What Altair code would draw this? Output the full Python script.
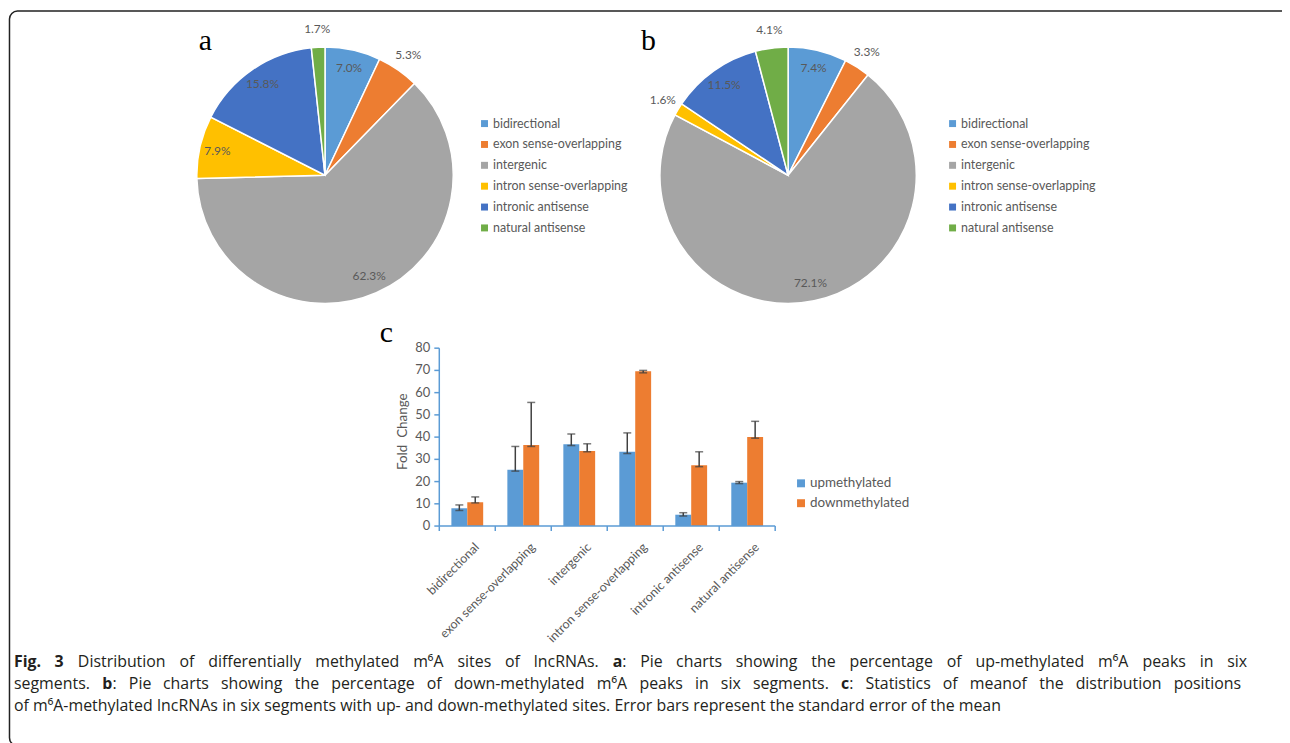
import altair as alt
import pandas as pd

# ---------------- data ----------------
categories = ["bidirectional", "exon sense-overlapping", "intergenic",
              "intron sense-overlapping", "intronic antisense", "natural antisense"]
cat_colors = ["#5B9BD5", "#ED7D31", "#A5A5A5", "#FFC000", "#4472C4", "#70AD47"]

pie_a_pct = [7.0, 5.3, 62.3, 7.9, 15.8, 1.7]   # up-methylated
pie_b_pct = [7.4, 3.3, 72.1, 1.6, 11.5, 4.1]   # down-methylated

groups = ["upmethylated", "downmethylated"]
group_colors = ["#5B9BD5", "#ED7D31"]
up_mean = [8.0, 25.3, 36.8, 33.4, 5.1, 19.5]
up_lo = [7.0, 24.7, 36.2, 32.6, 4.5, 19.1]
up_hi = [9.5, 35.8, 41.4, 41.9, 6.0, 20.0]
down_mean = [10.7, 36.5, 33.8, 69.6, 27.4, 40.1]
down_lo = [10.4, 35.8, 33.4, 68.9, 26.7, 39.5]
down_hi = [13.1, 55.6, 37.0, 70.0, 33.4, 47.1]
y_ticks = [0, 10, 20, 30, 40, 50, 60, 70, 80]

# caption: (text, bold, preceded_by_space)
caption_lines = [
    [("Fig.", True, False), ("3", True, True)]
    + [(w, False, True) for w in "Distribution of differentially methylated m\u2076A sites of lncRNAs.".split()]
    + [("a", True, True), (":", False, False)]
    + [(w, False, True) for w in "Pie charts showing the percentage of up-methylated m\u2076A peaks in six".split()],
    [("segments.", False, False), ("b", True, True), (":", False, False)]
    + [(w, False, True) for w in "Pie charts showing the percentage of down-methylated m\u2076A peaks in six segments.".split()]
    + [("c", True, True), (":", False, False)]
    + [(w, False, True) for w in "Statistics of meanof the distribution positions".split()],
    [(w, False, i > 0) for i, w in enumerate(
        ("of m\u2076A-methylated lncRNAs in six segments with up- and down-methylated sites. "
         "Error bars represent the standard error of the mean").split())],
]

# ---------------- layout (canvas px = page px - 8) ----------------
W, H = 1282, 735
R = 129
LABEL_FONT = "Lato"
GRAY = "#595959"
BLUE_AX = "#5B9BD5"
CAP_FS = 16
caption_y = [656, 678, 700]
caption_right = [1247, 1241, None]   # justified lines end here
CAP_LEFT = 6

one = alt.Data(values=[{}])

# approximate Open Sans advance widths (em)
EM = {" ": .26, ".": .266, ",": .25, ":": .266, "-": .322, "\u2076": .36,
      "a": .556, "b": .613, "c": .476, "d": .613, "e": .561, "f": .339, "g": .548, "h": .614,
      "i": .253, "j": .253, "k": .525, "l": .253, "m": .93, "n": .614, "o": .604, "p": .613,
      "q": .613, "r": .408, "s": .477, "t": .353, "u": .614, "v": .501, "w": .778, "x": .524,
      "y": .501, "z": .468, "A": .633, "B": .641, "C": .631, "D": .727, "E": .556, "F": .516,
      "N": .763, "R": .619, "S": .549}


def tw(s, bold):
    return sum(EM.get(ch, .572) for ch in s) * CAP_FS * (1.06 if bold else 1.0)


cap_rows = []
for li, toks in enumerate(caption_lines):
    sp = EM[" "] * CAP_FS
    natural = sum(tw(t, b) for t, b, _ in toks) + sum(sp for _, _, g in toks if g)
    ngaps = sum(1 for _, _, g in toks if g)
    extra = 0.0
    if caption_right[li] is not None and ngaps:
        extra = (caption_right[li] - CAP_LEFT - natural) / ngaps
    x = CAP_LEFT
    for t, b, g in toks:
        if g:
            x += sp + extra
        cap_rows.append({"t": t, "bold": b, "x": x, "y": caption_y[li]})
        x += tw(t, b)
cap_df = pd.DataFrame(cap_rows)


def pie(pcts, cx, cy):
    df = pd.DataFrame({"cat": categories, "pct": pcts, "idx": list(range(len(categories)))})
    tscale = alt.Scale(domain=[0, 100], range=[0, 6.283185307179586])
    arcs = alt.Chart(df).mark_arc(outerRadius=R, stroke="white", strokeWidth=1.5).encode(
        theta=alt.Theta("pct:Q", stack=True, scale=tscale),
        order=alt.Order("idx:Q"),
        x=alt.value(cx), y=alt.value(cy),
        color=alt.Color("cat:N", scale=alt.Scale(domain=categories, range=cat_colors), legend=None),
    )
    labels = alt.Chart(df).transform_window(
        cum="sum(pct)", sort=[alt.SortField("idx")], frame=[None, 0]
    ).transform_calculate(
        mid="datum.cum - datum.pct / 2",
        lab="format(datum.pct, '.1f') + '%'",
        r="datum.pct >= 7 ? 111 : 147",
    ).mark_text(font=LABEL_FONT, fontSize=12, color=GRAY).encode(
        theta=alt.Theta("mid:Q", stack=None, scale=tscale),
        radius=alt.Radius("r:Q", scale=None),
        x=alt.value(cx), y=alt.value(cy),
        text="lab:N",
    )
    return alt.layer(arcs, labels)


def legend(items, colors, xsq, xtext, y0, y1, sq_size, fsize):
    df = pd.DataFrame({"item": items})
    yenc = alt.Y("item:N", scale=alt.Scale(domain=items, range=[y0, y1], padding=0), axis=None)
    sq = alt.Chart(df).mark_square(size=sq_size, opacity=1).encode(
        x=alt.value(xsq), y=yenc,
        color=alt.Color("item:N", scale=alt.Scale(domain=items, range=colors), legend=None),
    )
    tx = alt.Chart(df).mark_text(align="left", baseline="middle", font=LABEL_FONT,
                                 fontSize=fsize, color=GRAY).encode(
        x=alt.value(xtext), y=yenc, text="item:N")
    return alt.layer(sq, tx)


def letter(ch, x, y):
    return alt.Chart(one).mark_text(text=ch, font="Liberation Serif", fontSize=30, color="black",
                                    align="left", baseline="alphabetic").encode(
        x=alt.value(x), y=alt.value(y))


# pies
pie_a = pie(pie_a_pct, 319, 166)
pie_b = pie(pie_b_pct, 785, 166)
leg_a = legend(categories, cat_colors, 479.5, 488, 114, 219, 49, 12.5)
leg_b = legend(categories, cat_colors, 950.5, 959, 114, 219, 49, 12.5)

# bar chart
rows = []
for i, c in enumerate(categories):
    rows.append({"cat": c, "grp": groups[0], "val": up_mean[i], "lo": up_lo[i], "hi": up_hi[i]})
    rows.append({"cat": c, "grp": groups[1], "val": down_mean[i], "lo": down_lo[i], "hi": down_hi[i]})
bar_df = pd.DataFrame(rows)
cat_df = pd.DataFrame({"cat": categories})
tick_df = pd.DataFrame({"v": y_ticks})

X0, X1, Y0, Y1 = 434, 772, 519, 340
xscale = alt.Scale(domain=categories, range=[X0, X1], paddingInner=0, paddingOuter=0)
xenc = alt.X("cat:N", scale=xscale, axis=None)
xoff = alt.XOffset("grp:N", scale=alt.Scale(domain=groups, paddingInner=0, paddingOuter=0.76))
yscale = alt.Scale(domain=[0, 80], range=[Y0, Y1], nice=False)

bars = alt.Chart(bar_df).mark_bar().encode(
    x=xenc, xOffset=xoff,
    y=alt.Y("val:Q", scale=yscale, axis=None),
    color=alt.Color("grp:N", scale=alt.Scale(domain=groups, range=group_colors), legend=None),
)
err = alt.Chart(bar_df).mark_rule(color="#404040", strokeWidth=1.5).encode(
    x=xenc, xOffset=xoff, y=alt.Y("lo:Q", scale=yscale, axis=None), y2="hi:Q")
cap_lo = alt.Chart(bar_df).mark_tick(color="#404040", thickness=1.5, size=8, orient="horizontal").encode(
    x=xenc, xOffset=xoff, y=alt.Y("lo:Q", scale=yscale, axis=None))
cap_hi = alt.Chart(bar_df).mark_tick(color="#404040", thickness=1.5, size=8, orient="horizontal").encode(
    x=xenc, xOffset=xoff, y=alt.Y("hi:Q", scale=yscale, axis=None))

# y axis (drawn through the y scale)
y_dom = alt.Chart(pd.DataFrame({"a": [y_ticks[0]], "b": [y_ticks[-1]]})).mark_rule(
    color=BLUE_AX, strokeWidth=1.5).encode(
    x=alt.value(X0), y=alt.Y("a:Q", scale=yscale, axis=None), y2="b:Q")
y_tk = alt.Chart(tick_df).mark_rule(color=BLUE_AX, strokeWidth=1.5).encode(
    x=alt.value(X0 - 5), x2=alt.value(X0), y=alt.Y("v:Q", scale=yscale, axis=None))
y_lb = alt.Chart(tick_df).mark_text(align="right", baseline="middle", font=LABEL_FONT,
                                    fontSize=13, color=GRAY).encode(
    x=alt.value(X0 - 9), y=alt.Y("v:Q", scale=yscale, axis=None), text="v:Q")
y_title = alt.Chart(one).mark_text(text="Fold\u00a0 Change", angle=270, font=LABEL_FONT, fontSize=13.5,
                                   color=GRAY, align="center", baseline="middle").encode(
    x=alt.value(398), y=alt.value(424))

# x axis (drawn through the x scale)
x_dom = alt.Chart(one).mark_rule(color=BLUE_AX, strokeWidth=1.5).encode(
    x=alt.value(X0), x2=alt.value(X1), y=alt.value(Y0))
x_tk = alt.Chart(cat_df).mark_rule(color=BLUE_AX, strokeWidth=1.5).encode(
    x=alt.X("cat:N", scale=xscale, bandPosition=0, axis=None), y=alt.value(Y0), y2=alt.value(Y0 + 5))
x_tk_end = alt.Chart(one).mark_rule(color=BLUE_AX, strokeWidth=1.5).encode(
    x=alt.value(X1), y=alt.value(Y0), y2=alt.value(Y0 + 5))
x_lb = alt.Chart(cat_df).mark_text(angle=315, align="right", baseline="top", font=LABEL_FONT,
                                   fontSize=12.5, color=GRAY).encode(
    x=alt.X("cat:N", scale=xscale, bandPosition=0.6, axis=None), y=alt.value(Y0 + 15), text="cat:N")

bar_chart = alt.layer(bars, err, cap_lo, cap_hi, y_dom, y_tk, y_lb, y_title,
                      x_dom, x_tk, x_tk_end, x_lb)

leg_c = legend(groups, group_colors, 798, 807, 476, 496, 64, 13.5)

# border
border = alt.Chart(one).mark_rect(fillOpacity=0, stroke="#222222", strokeWidth=1.5, cornerRadius=8).encode(
    x=alt.value(1.5), x2=alt.value(1295), y=alt.value(0.8), y2=alt.value(740))

# caption
cap_normal = alt.Chart(cap_df).transform_filter("!datum.bold").mark_text(
    font="Open Sans", fontSize=CAP_FS, color="#231F20", align="left", baseline="middle").encode(
    x=alt.X("x:Q", scale=None), y=alt.Y("y:Q", scale=None), text="t:N")
cap_bold = alt.Chart(cap_df).transform_filter("datum.bold").mark_text(
    font="Open Sans", fontSize=CAP_FS, fontWeight="bold", color="#231F20", align="left",
    baseline="middle").encode(
    x=alt.X("x:Q", scale=None), y=alt.Y("y:Q", scale=None), text="t:N")

chart = alt.layer(
    border, pie_a, pie_b, leg_a, leg_b, bar_chart, leg_c,
    letter("a", 192, 40), letter("b", 637, 40), letter("c", 374, 334),
    cap_normal, cap_bold,
).resolve_scale(
    x="independent", y="independent", theta="independent", radius="independent",
    color="independent", xOffset="independent",
).properties(
    width=W, height=H, padding=0, autosize=alt.AutoSizeParams(type="none"),
).configure_view(stroke=None)

chart.save("out.html", embed_options={"renderer": "svg", "actions": False})
